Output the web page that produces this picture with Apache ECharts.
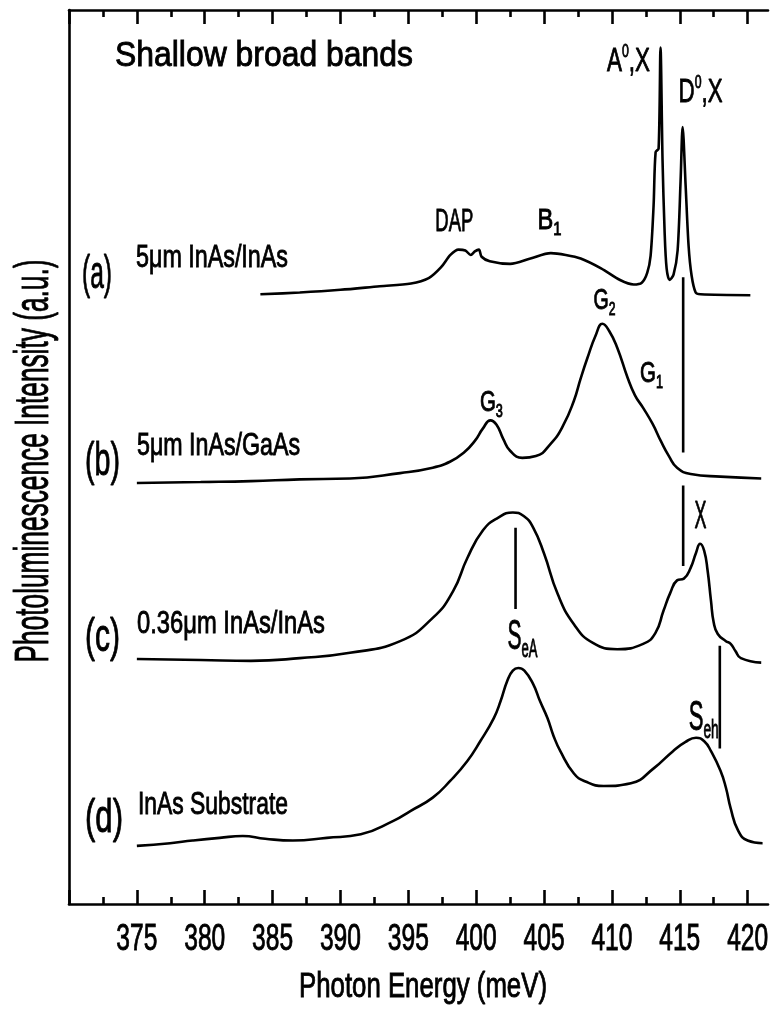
<!DOCTYPE html>
<html>
<head>
<meta charset="utf-8">
<script src="https://cdn.jsdelivr.net/npm/echarts@6/dist/echarts.min.js"></script>
<style>
  html, body { margin: 0; padding: 0; background: #fff; }
  #chart { width: 770px; height: 1014px; }
</style>
</head>
<body>
<div id="chart"></div>
<script>
// photon energy (meV) and stacked PL intensity (a.u., offsets included)
const energyA = [384.1, 387.0, 390.0, 392.9, 395.2, 396.5, 397.4, 398.1, 398.7, 399.2, 399.6, 399.9, 400.2, 400.4, 401.0, 402.5, 404.0, 405.5, 406.6, 407.7, 409.2, 410.6, 411.6, 412.2, 412.6, 412.85, 413.07, 413.22, 413.44, 413.58, 413.73, 413.88, 414.03, 414.25, 414.54, 414.84, 415.06, 415.21, 415.43, 415.65, 415.87, 416.17, 416.53, 420.2];
const intensityA = [68.2, 68.4, 68.7, 69.1, 69.4, 70.0, 71.2, 72.6, 73.2, 73.1, 72.6, 73.0, 73.2, 72.4, 71.9, 71.6, 72.2, 72.8, 72.6, 72.2, 71.1, 69.8, 69.3, 69.5, 70.6, 72.5, 78.1, 84.1, 84.5, 95.8, 83.2, 75.3, 71.1, 69.8, 70.4, 73.1, 80.9, 86.9, 80.4, 73.6, 70.3, 68.4, 68.2, 68.1];

const energyB = [375.0, 379.7, 383.4, 387.0, 390.7, 394.4, 396.8, 398.1, 399.1, 399.9, 400.5, 401.05, 401.5, 402.0, 402.5, 403.4, 404.4, 405.5, 406.4, 407.2, 407.7, 408.2, 408.8, 409.3, 409.8, 410.4, 411.15, 411.7, 412.3, 413.0, 413.6, 414.2, 414.8, 415.8, 418.0, 421.0];
const intensityB = [47.1, 47.2, 47.3, 47.5, 47.6, 48.2, 48.8, 49.5, 50.5, 51.8, 53.2, 54.1, 53.6, 52.0, 50.7, 49.9, 50.1, 51.5, 53.5, 56.3, 58.8, 61.1, 63.6, 64.9, 64.1, 62.2, 58.9, 56.9, 55.5, 53.7, 51.8, 50.1, 48.8, 48.1, 47.8, 47.6];

const energyC = [375.0, 379.7, 383.4, 387.0, 390.7, 394.4, 396.8, 398.3, 399.35, 400.5, 401.6, 402.7, 403.5, 404.2, 405.0, 406.0, 407.2, 408.6, 410.4, 412.3, 413.2, 413.8, 414.3, 414.8, 415.3, 415.8, 416.2, 416.5, 416.8, 417.05, 417.3, 417.5, 417.8, 418.4, 418.75, 419.1, 419.5, 421.0];
const intensityC = [27.4, 27.3, 27.2, 27.5, 28.1, 29.4, 32.0, 35.0, 38.7, 41.8, 43.2, 43.8, 43.4, 42.1, 39.2, 34.7, 31.3, 29.2, 28.5, 29.1, 30.3, 32.8, 34.8, 36.2, 36.4, 37.6, 39.3, 40.3, 39.5, 37.3, 33.9, 31.5, 30.2, 29.4, 29.1, 28.3, 27.5, 27.0];

const energyD = [375.0, 377.45, 379.1, 381.1, 382.8, 384.45, 386.5, 389.0, 391.5, 393.9, 395.15, 396.8, 398.1, 399.35, 400.3, 401.3, 401.8, 402.3, 402.7, 403.1, 403.55, 404.2, 404.7, 405.25, 405.7, 406.2, 407.2, 408.05, 409.4, 411.4, 413.1, 414.5, 415.4, 416.2, 416.8, 417.3, 418.0, 418.4, 418.75, 419.3, 420.0, 421.1];
const intensityD = [6.5, 6.8, 7.1, 7.4, 7.6, 7.3, 7.1, 7.4, 7.8, 9.3, 10.4, 11.9, 13.8, 16.0, 18.2, 20.8, 22.7, 25.0, 26.1, 26.4, 26.1, 24.6, 22.7, 20.8, 18.8, 17.1, 14.6, 13.7, 13.2, 13.5, 15.2, 17.1, 18.1, 18.6, 18.2, 17.1, 14.9, 13.0, 10.7, 8.2, 7.1, 6.8];

// vertical marker bars: energy, upper and lower end
const markerEnergy = [415.25, 415.25, 402.9, 417.95];
const markerTop = [70.1, 46.8, 42.1, 28.9];
const markerBottom = [50.5, 37.8, 33.0, 17.4];

// axis ticks
const majorTicks = [370, 375, 380, 385, 390, 395, 400, 405, 410, 415, 420];
const minorTicks = [372.5, 377.5, 382.5, 387.5, 392.5, 397.5, 402.5, 407.5, 412.5, 417.5];
const tickLabels = [375, 380, 385, 390, 395, 400, 405, 410, 415, 420];

// peak names: [energy, intensity, parts]; part kind '' normal, 'sub', 'sup'
const peakLabels = [
  [398.39, 76.3, [['DAP', '']]],
  [405.40, 76.4, [['B', ''], ['1', 'sub']]],
  [411.22, 94.2, [['A', ''], ['0', 'sup'], [',X', '']]],
  [416.53, 90.8, [['D', ''], ['0', 'sup'], [',X', '']]],
  [409.45, 67.5, [['G', ''], ['2', 'sub']]],
  [412.92, 59.3, [['G', ''], ['1', 'sub']]],
  [401.12, 56.1, [['G', ''], ['3', 'sub']]],
  [416.53, 43.2, [['X', '']]],
  [403.41, 29.8, [['S', ''], ['eA', 'sub']]],
  [416.76, 20.8, [['S', ''], ['eh', 'sub']]]
];
const peakWidths = [38, 24, 43, 44, 22, 23, 23, 12, 30, 30];
const peakSizes = [32, 30, 34, 34, 30, 30, 30, 38, 42, 42];

const sampleNames = ['5\u03bcm InAs/InAs', '5\u03bcm InAs/GaAs', '0.36\u03bcm InAs/InAs', 'InAs Substrate'];
const panelTags = ['(a)', '(b)', '(c)', '(d)'];

const FONT = '"Liberation Sans", Arial, sans-serif';
const LW = 2.6;

const chart = echarts.init(document.getElementById('chart'));

function zip(xs, ys) {
  return xs.map((x, i) => [x, ys[i]]);
}

const spectra = [[energyA, intensityA, 0.3], [energyB, intensityB, 0.5], [energyC, intensityC, 0.5], [energyD, intensityD, 0.5]];
const series = spectra.map(s => ({
  type: 'line',
  data: zip(s[0], s[1]),
  smooth: s[2],
  showSymbol: false,
  lineStyle: { color: '#000', width: LW },
  silent: true
}));
markerEnergy.forEach((e, i) => {
  series.push({
    type: 'line',
    data: [[e, markerTop[i]], [e, markerBottom[i]]],
    showSymbol: false,
    lineStyle: { color: '#000', width: LW },
    silent: true
  });
});

function xAxisDef(position, values, len, withLine) {
  return {
    type: 'value',
    position: position,
    min: 370,
    max: 421.5,
    axisLine: { show: withLine, lineStyle: { color: '#000', width: LW } },
    axisTick: { show: true, inside: true, length: len, customValues: values, lineStyle: { color: '#000', width: LW } },
    axisLabel: { show: false },
    splitLine: { show: false }
  };
}

chart.setOption({
  animation: false,
  grid: { left: 69, right: 2, top: 10, bottom: 110 },
  xAxis: [
    xAxisDef('bottom', majorTicks, 14, true),
    xAxisDef('top', majorTicks, 14, true),
    xAxisDef('bottom', minorTicks, 7, false),
    xAxisDef('top', minorTicks, 7, false)
  ],
  yAxis: {
    type: 'value',
    min: 0,
    max: 100,
    axisLine: { show: true, lineStyle: { color: '#000', width: LW } },
    axisTick: { show: false },
    axisLabel: { show: false },
    splitLine: { show: false }
  },
  series: series
});

// text is drawn as graphics so that the narrow plotter lettering can be squeezed
const ctx = document.createElement('canvas').getContext('2d');
function measure(str, size) {
  ctx.font = size + 'px ' + FONT;
  return ctx.measureText(str).width;
}

function textEl(x, y, str, size, sx, rotation) {
  return {
    type: 'text',
    x: x,
    y: y,
    scaleX: sx,
    rotation: rotation || 0,
    silent: true,
    style: {
      text: str,
      font: size + 'px ' + FONT,
      fill: '#000',
      stroke: '#000',
      lineWidth: 0.9,
      align: 'left',
      verticalAlign: 'middle',
      textAlign: 'left',
      textVerticalAlign: 'middle'
    }
  };
}

// parts laid out left to right, squeezed to the wanted width
function label(x, y, parts, size, width, align) {
  const pieces = parts.map(p => {
    const fs = p[1] === 'sub' ? size * 0.62 : p[1] === 'sup' ? size * 0.55 : size;
    return { t: p[0], k: p[1], fs: fs, w: measure(p[0], fs) };
  });
  const natural = pieces.reduce((s, p) => s + p.w, 0);
  const sx = width / natural;
  let cx = align === 'center' ? x - width / 2 : x;
  return pieces.map(p => {
    const dy = p.k === 'sub' ? size * 0.3 : p.k === 'sup' ? -size * 0.28 : 0;
    const el = textEl(cx, y + dy, p.t, p.fs, sx);
    cx += p.w * sx;
    return el;
  });
}

const xPix = v => chart.convertToPixel({ xAxisIndex: 0 }, v);
const yPix = v => chart.convertToPixel({ yAxisIndex: 0 }, v);

let graphics = [];
graphics = graphics.concat(label(115, 56, [['Shallow broad bands', '']], 35, 298, 'left'));

const tagPos = [[82, 275], [85, 462], [85, 638], [85, 819]];
const tagWidths = [30, 35, 35, 38];
panelTags.forEach((t, i) => {
  graphics = graphics.concat(label(tagPos[i][0], tagPos[i][1], [[t, '']], 46, tagWidths[i], 'left'));
});

const namePos = [[136, 258], [137, 446], [137, 624], [138, 805]];
const nameWidths = [152, 163, 188, 150];
sampleNames.forEach((t, i) => {
  graphics = graphics.concat(label(namePos[i][0], namePos[i][1], [[t, '']], 32, nameWidths[i], 'left'));
});

peakLabels.forEach((p, i) => {
  graphics = graphics.concat(label(xPix(p[0]), yPix(p[1]), p[2], peakSizes[i], peakWidths[i], 'center'));
});

tickLabels.forEach(v => {
  graphics = graphics.concat(label(xPix(v), 940, [[String(v), '']], 37, 41, 'center'));
});

graphics = graphics.concat(label(423, 987, [['Photon Energy (meV)', '']], 35, 248, 'center'));

// rotated intensity title
const yTitle = 'Photoluminescence Intensity (a.u.)';
const yTitleSize = 48;
const yTitleLen = 403;
const ySx = yTitleLen / measure(yTitle, yTitleSize);
const yTitleEl = textEl(35, 461 + yTitleLen / 2, yTitle, yTitleSize, ySx, Math.PI / 2);
graphics.push(yTitleEl);

chart.setOption({ graphic: graphics });
</script>
</body>
</html>
